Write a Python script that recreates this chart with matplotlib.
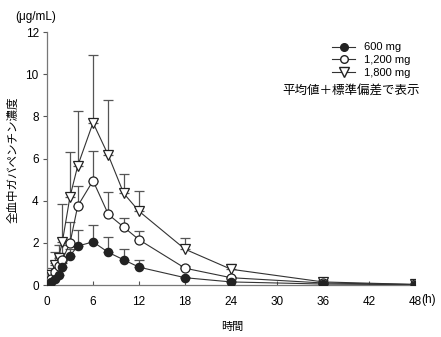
import matplotlib
matplotlib.use("Agg")
import matplotlib.pyplot as plt
from matplotlib.lines import Line2D

plt.rcParams['font.family'] = ['Liberation Sans', 'Noto Sans CJK JP', 'DejaVu Sans']

times = [0, 0.5, 1, 1.5, 2, 3, 4, 6, 8, 10, 12, 18, 24, 36, 48]
mean_600 = [0, 0.15, 0.3, 0.5, 0.85, 1.4, 1.85, 2.05, 1.55, 1.2, 0.85, 0.35, 0.15, 0.05, 0.02]
sd_600 = [0, 0.05, 0.1, 0.15, 0.2, 0.3, 0.75, 0.8, 0.75, 0.5, 0.35, 0.05, 0.03, 0.01, 0.0]
mean_1200 = [0, 0.3, 0.6, 0.9, 1.2, 2.0, 3.75, 4.95, 3.35, 2.75, 2.15, 0.8, 0.35, 0.1, 0.03]
sd_1200 = [0, 0.25, 0.45, 0.6, 0.7, 1.0, 0.95, 1.4, 1.05, 0.45, 0.4, 0.1, 0.05, 0.02, 0.0]
mean_1800 = [0, 0.5, 0.95, 1.3, 2.05, 4.2, 5.65, 7.7, 6.15, 4.35, 3.5, 1.7, 0.75, 0.15, 0.03]
sd_1800 = [0, 0.3, 0.6, 0.6, 1.8, 2.1, 2.6, 3.2, 2.65, 0.9, 0.95, 0.55, 0.25, 0.1, 0.0]

labels = ['600 mg', '1,200 mg', '1,800 mg']
xticks = [0, 6, 12, 18, 24, 30, 36, 42, 48]
yticks = [0, 2, 4, 6, 8, 10, 12]

fig = plt.figure(figsize=(4.41, 3.37), dpi=100)
ax = fig.add_axes([0.1066, 0.154, 0.835, 0.751])

lc = '#333333'
ec = '#555555'
series = [
    (mean_1800, sd_1800, 'v', 'white', 7.5),
    (mean_1200, sd_1200, 'o', 'white', 6.5),
    (mean_600, sd_600, 'o', '#222222', 6.0),
]
for mean, sd, mk, fc, ms in series:
    lower = [0] * len(sd)
    ax.errorbar(times, mean, yerr=[lower, sd], fmt='none', ecolor=ec,
                elinewidth=0.9, capsize=3.5, capthick=0.9, zorder=2)
    ax.plot(times, mean, color=lc, lw=0.8, marker=mk, mfc=fc, mec='#222222',
            mew=0.9, ms=ms, zorder=3)

ax.set_xlim(0, 48)
ax.set_ylim(0, 12)
ax.set_xticks(xticks)
ax.set_yticks(yticks)
ax.set_xticklabels([str(t) for t in xticks])
ax.tick_params(axis='x', direction='in', length=3, labelsize=8.5, pad=8, color='#555555')
ax.tick_params(axis='y', direction='out', length=3, labelsize=8.5, pad=3, color='#555555')
ax.spines['top'].set_visible(False)
ax.spines['right'].set_visible(False)
for s in ['left', 'bottom']:
    ax.spines[s].set_color('#777777')
    ax.spines[s].set_linewidth(0.9)
ax.set_clip_on(False)

fig.text(429 / 441, 1 - 300 / 337, '(h)', fontsize=8.5, ha='center', va='center')
fig.text(36 / 441, 1 - 17 / 337, '(μg/mL)', fontsize=8.5, ha='center', va='center')
fig.text(13 / 441, 1 - 160 / 337, '全血中ガバペンチン濃度', fontsize=8.3, rotation=90,
         ha='center', va='center', family=['Noto Sans CJK JP', 'DejaVu Sans'])
fig.text(232 / 441, 1 - 327 / 337, '時間', fontsize=8, ha='center', va='center',
         family=['Noto Sans CJK JP', 'DejaVu Sans'])

handles = [
    Line2D([], [], color=lc, lw=0.8, marker='o', mfc='#222222', mec='#222222', ms=5.5),
    Line2D([], [], color=lc, lw=0.8, marker='o', mfc='white', mec='#222222', ms=5.5),
    Line2D([], [], color=lc, lw=0.8, marker='v', mfc='white', mec='#222222', ms=6.5),
]
leg = ax.legend(handles, labels, loc='upper left', bbox_to_anchor=(328 / 441, 1 - 38 / 337),
                bbox_transform=fig.transFigure, frameon=False, fontsize=8,
                handlelength=2.0, handletextpad=0.8, labelspacing=0.25, borderaxespad=0)
fig.text(351 / 441, 1 - 90 / 337, '平均値＋標準偏差で表示', fontsize=9, ha='center', va='center',
         family=['Noto Sans CJK JP', 'DejaVu Sans'])

fig.savefig('out.png', dpi=100)
